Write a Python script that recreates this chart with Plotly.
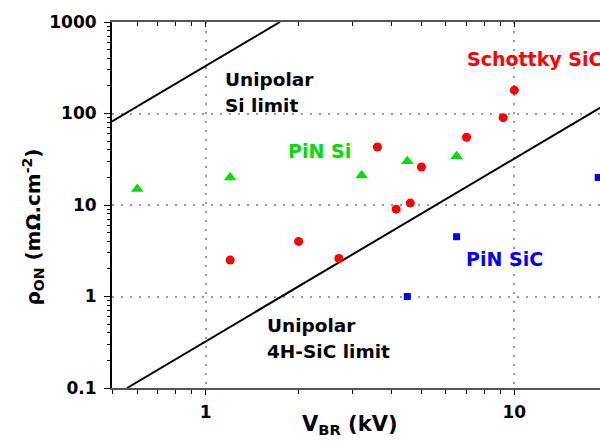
import math
import plotly.graph_objects as go

# ---- data ----
schottky_v = [1.2, 2.0, 2.7, 3.6, 4.14, 4.6, 5.0, 7.0, 9.2, 10.0]
schottky_r = [2.5, 4.0, 2.6, 43, 9.0, 10.5, 26, 55, 90, 180]

pin_si_v = [0.6, 1.2, 3.2, 4.5, 6.5]
pin_si_r = [15, 20, 21, 30, 34]

pin_sic_v = [4.5, 6.5, 18.7]
pin_sic_r = [1.0, 4.5, 20]

si_limit_v = [0.497, 1.74]
si_limit_r = [82, 1000]
sic_limit_v = [0.556, 19.0]
sic_limit_r = [0.1, 116]

# ---- layout geometry ----
W, H = 600, 441
L, R, T, B = 112, 600, 22, 388


def px(x):
    return (x - L) / (R - L)


def py(y):
    return (B - y) / (B - T)


FONT = "DejaVu Sans"
xr = [math.log10(0.4970), math.log10(18.95)]
yr = [-1, 3]

fig = go.Figure()
fig.add_trace(go.Scatter(x=si_limit_v, y=si_limit_r, mode="lines",
                         line=dict(color="black", width=2), showlegend=False))
fig.add_trace(go.Scatter(x=sic_limit_v, y=sic_limit_r, mode="lines",
                         line=dict(color="black", width=2), showlegend=False))
fig.add_trace(go.Scatter(x=schottky_v, y=schottky_r, mode="markers",
                         marker=dict(color="#ff0000", size=9, symbol="circle"),
                         showlegend=False))
fig.add_trace(go.Scatter(x=pin_si_v, y=pin_si_r, mode="markers",
                         marker=dict(color="#00e000", size=11, symbol="triangle-up"),
                         showlegend=False))
fig.add_trace(go.Scatter(x=pin_sic_v, y=pin_sic_r, mode="markers", cliponaxis=False,
                         marker=dict(color="#0000ff", size=7, symbol="square"),
                         showlegend=False))
fig.add_trace(go.Scatter(x=[], y=[], xaxis="x2", showlegend=False))

grid = dict(showgrid=True, gridcolor="#9a9a9a", gridwidth=2, griddash="2px,7px")
tickfont = dict(family=FONT, size=17, color="black", weight="bold")

fig.update_layout(
    width=W, height=H,
    margin=dict(l=L, r=W - R, t=T, b=H - B),
    paper_bgcolor="white", plot_bgcolor="white",
    xaxis=dict(type="log", range=xr, tickmode="linear", tick0=0, dtick=1,
               ticks="outside", ticklen=5, tickwidth=1, tickcolor="black",
               showline=True, linecolor="#555555", linewidth=2,
               tickfont=tickfont, ticklabelstandoff=3, zeroline=False,
               minor=dict(ticks="outside", ticklen=4, dtick="D1", tickcolor="black",
                          showgrid=False),
               **grid),
    xaxis2=dict(type="log", range=xr, overlaying="x", side="top", anchor="y",
                tickmode="linear", tick0=0, dtick=1, ticks="inside", ticklen=5,
                tickcolor="black", showticklabels=False, showgrid=False,
                showline=True, linecolor="#555555", linewidth=2, zeroline=False,
                minor=dict(ticks="inside", ticklen=4, dtick="D1", tickcolor="black",
                           showgrid=False)),
    yaxis=dict(type="log", range=yr, tickmode="linear", tick0=0, dtick=1,
               ticks="outside", ticklen=6, tickwidth=1, tickcolor="black",
               showline=True, linecolor="black", linewidth=2,
               tickfont=tickfont, ticklabelstandoff=4, zeroline=False,
               minor=dict(ticks="outside", ticklen=3, dtick="D1", tickcolor="black",
                          showgrid=False),
               **grid),
)

labels = [
    ("Unipolar", 225, 80, "black", 18.5),
    ("Si limit", 225, 105.5, "black", 18.5),
    ("Unipolar", 266.7, 325.5, "black", 18.5),
    ("4H-SiC limit", 266.7, 351, "black", 18.5),
    ("Schottky SiC", 466.7, 59.5, "#ff0000", 19),
    ("PiN Si", 288.3, 151, "#00dd00", 19),
    ("PiN SiC", 466, 258.7, "#0000ff", 19),
]
for text, x, y, col, size in labels:
    fig.add_annotation(text=text, xref="paper", yref="paper", x=px(x - 2), y=py(y),
                       xanchor="left", yanchor="middle", showarrow=False,
                       font=dict(family=FONT, size=size, color=col, weight="bold"))

fig.add_annotation(text="V<sub>BR</sub> (kV)", xref="paper", yref="paper",
                   x=px(350), y=py(425), xanchor="center", yanchor="middle",
                   showarrow=False,
                   font=dict(family=FONT, size=21, color="black", weight="bold"))
fig.add_annotation(text="ρ<sub>ON</sub> (mΩ.cm<sup>-2</sup>)", xref="paper", yref="paper",
                   x=px(33), y=py(227.5), xanchor="center", yanchor="middle",
                   textangle=-90, showarrow=False,
                   font=dict(family=FONT, size=20, color="black", weight="bold"))

fig.write_html("out.html")
